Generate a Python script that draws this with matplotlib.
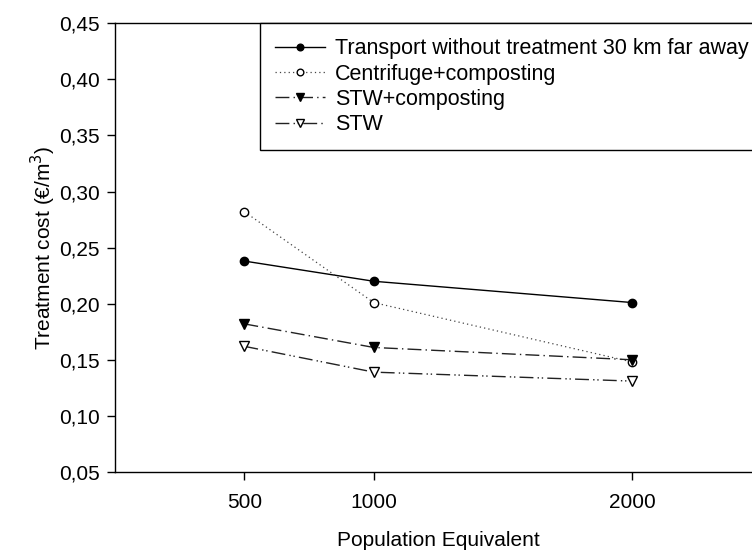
import matplotlib
matplotlib.use('Agg')
import matplotlib.pyplot as plt
from matplotlib.ticker import FuncFormatter, FixedLocator

plt.rcParams['font.family'] = ['Liberation Sans', 'DejaVu Sans']

pe = [500, 1000, 2000]
transport = [0.238, 0.220, 0.201]
centrifuge = [0.282, 0.201, 0.148]
stw_compost = [0.182, 0.161, 0.150]
stw = [0.162, 0.139, 0.131]

labels = ['Transport without treatment 30 km far away',
          'Centrifuge+composting',
          'STW+composting',
          'STW']

fs = 15

fig = plt.figure(figsize=(7.52, 5.53), dpi=100)
ax = fig.add_axes([0.153, 0.1465, 0.86, 0.8115])

ax.plot(pe, transport, color='black', lw=1.0, ls='-',
        marker='o', ms=6, mfc='black', mec='black', label=labels[0])
ax.plot(pe, centrifuge, color='#444444', lw=0.9, ls=(0, (1, 2.5)),
        marker='o', ms=6, mfc='white', mec='black', label=labels[1])
ax.plot(pe, stw_compost, color='#222222', lw=1.0, ls=(0, (10, 3, 1, 3)),
        marker='v', ms=7.5, mfc='black', mec='black', label=labels[2])
ax.plot(pe, stw, color='#222222', lw=1.0, ls=(0, (10, 3, 1, 2, 1, 3)),
        marker='v', ms=7.5, mfc='white', mec='black', label=labels[3])

ax.set_xlim(0, 2500)
ax.set_ylim(0.05, 0.45)
ax.xaxis.set_major_locator(FixedLocator(pe))
ax.yaxis.set_major_locator(FixedLocator([0.05 + 0.05 * i for i in range(9)]))
ax.yaxis.set_major_formatter(FuncFormatter(lambda v, p: ('%.2f' % v).replace('.', ',')))
ax.tick_params(direction='out', length=6, width=1, labelsize=fs, top=False, right=False)
ax.tick_params(axis='x', pad=9)
ax.tick_params(axis='y', pad=5)

for s in ax.spines.values():
    s.set_linewidth(1.0)

ax.set_xlabel('Population Equivalent', fontsize=fs, labelpad=14)
ax.set_ylabel('Treatment cost (€/m$^3$)', fontsize=fs, labelpad=1)

# legend box runs past the right edge of the figure, like the original crop
leg = ax.legend(loc='upper left', bbox_to_anchor=(0.224, 0.0, 0.85, 1.0), mode='expand',
                fontsize=15.5, frameon=True, fancybox=False, edgecolor='black', framealpha=1,
                handlelength=2.3, borderaxespad=0, labelspacing=0.2,
                borderpad=0.7, handletextpad=0.5, markerscale=0.8)
leg.get_frame().set_linewidth(1.0)

fig.savefig('out.png', dpi=100)
